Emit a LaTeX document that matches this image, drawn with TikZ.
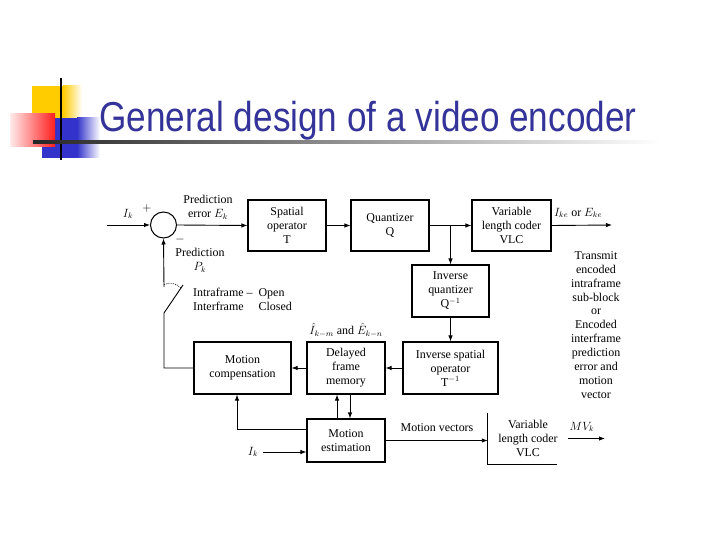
\documentclass[tikz,border=0pt]{standalone}
\usepackage{graphicx}
\usepackage{amsmath}
\usepackage{fontspec}
\setmainfont{Liberation Serif}
\newfontfamily\titlefont{Liberation Sans}
\usepackage{xcolor}
\usepackage{tikz}
\usetikzlibrary{arrows.meta,calc}
\definecolor{titleblue}{RGB}{51,51,153}
\definecolor{decoyellow}{RGB}{255,204,0}
\definecolor{decoblue}{RGB}{51,51,204}
\definecolor{decored}{RGB}{255,30,30}

\begin{document}
\begin{tikzpicture}[x=1bp,y=-1bp,
  font=\fontsize{12}{14}\selectfont,
  blk/.style={draw,line width=1.1bp,align=center,inner sep=1bp},
  lbl/.style={align=center,inner sep=0pt},
  wire/.style={line width=0.9bp},
  flow/.style={wire,-{Latex[length=6bp,width=4.5bp]}}]
  \useasboundingbox (0,0) rectangle (720,540);

  \fill[decoyellow] (32,86) rectangle (63,128);
  \fill[left color=decoyellow,right color=white] (63,86) rectangle (82,128);
  \fill[decoblue] (42,118) rectangle (77,158);
  \fill[left color=decoblue,right color=white] (77,118) rectangle (100,158);
  \fill[left color=red!8,right color=decored] (10,114) rectangle (55,147);
  \draw[line width=2bp] (61,78) -- (61,160);
  \shade[left color=black!85,middle color=black!45,right color=white] (33,141) rectangle (660,143.5);
  \node[anchor=base west,inner sep=0pt,text=titleblue] (title) at (99,132)
    {\titlefont\fontsize{42}{42}\selectfont\scalebox{0.84}[1]{General design of a video encoder}};

  \node[draw,circle,line width=1bp,minimum size=26bp,inner sep=0pt] (sum) at (163.5,225) {};
  \node[blk,minimum width=78bp,minimum height=51bp] (T) at (287,225.5) {Spatial\\operator\\T};
  \node[blk,minimum width=78bp,minimum height=51bp] (Q) at (390,225.5) {Quantizer\\Q};
  \node[blk,minimum width=79bp,minimum height=51bp] (VLC) at (511.5,225.5) {Variable\\length coder\\VLC};
  \node[blk,minimum width=77bp,minimum height=52bp] (IQ) at (450.5,291) {Inverse\\quantizer\\Q$^{-1}$};
  \node[blk,minimum width=95bp,minimum height=52bp] (IT) at (450.5,368) {Inverse spatial\\operator\\T$^{-1}$};
  \node[blk,minimum width=78bp,minimum height=52bp] (DFM) at (346,368) {Delayed\\frame\\memory};
  \node[blk,minimum width=97bp,minimum height=52bp] (MC) at (242.5,368) {Motion\\compensation};
  \node[blk,minimum width=78bp,minimum height=43bp] (ME) at (346,440.5) {Motion\\estimation};
  \node[lbl,minimum width=80bp,minimum height=51bp] (VLCb) at (528,438.5) {Variable\\length coder\\VLC};

  \node[lbl] (ik) at (128,214) {$I_k$};
  \node[lbl] (plus) at (147,209) {$+$};
  \node[lbl] (minus) at (180,240) {$-$};
  \node[lbl] (err) at (208,207) {Prediction\\error $E_k$};
  \node[lbl] (pred) at (200,260) {Prediction\\$P_k$};
  \node[lbl,anchor=west] (mode) at (193,301)
    {\begin{tabular}{@{}l@{\hspace{6bp}}l@{}}Intraframe -- & Open\\Interframe & Closed\end{tabular}};
  \node[lbl] (hat) at (346,330) {$\hat{I}_{k-m}$~and~$\hat{E}_{k-n}$};
  \node[lbl] (ike) at (578,213) {$I_{ke}$ or $E_{ke}$};
  \node[lbl] (note) at (596,325) {Transmit\\encoded\\intraframe\\sub-block\\or\\Encoded\\interframe\\prediction\\error and\\motion\\vector};
  \node[lbl] (mv) at (437,428) {Motion vectors};
  \node[lbl] (ik2) at (253,452) {$I_k$};
  \node[lbl] (mvk) at (582,427) {$MV_k$};

  \coordinate (in) at (107,225);
  \coordinate (out) at (612,225);
  \coordinate (mvout) at (605,438.5);
  \coordinate (sw) at (164,313);
  \coordinate (swtop) at (164,287);
  \coordinate (blade) at (183,285);

  \draw[flow] (in) -- (sum.west);
  \draw[flow] (sum.east) -- (T.west);
  \draw[flow] (T.east) -- (Q.west);
  \draw[flow] (Q.east) -- (VLC.west);
  \draw[flow] (IQ.north |- Q.east) -- (IQ.north);
  \draw[flow] (VLC.east) -- (out);
  \draw[flow] (IQ.south) -- (IT.north);
  \draw[flow] (IT.west) -- (DFM.east);
  \draw[flow] (DFM.west) -- (MC.east);
  \draw[wire] (MC.west) -- (sw |- MC.west) -- (sw) -- (blade);
  \draw[flow] (swtop) -- (sum.south);
  \draw[wire,densely dotted,line width=0.6bp] (164,284.5) .. controls (170,282) and (176,283) .. (181,288);
  \draw[flow] ($(ME.north west)!.25!(ME.south west)$) -| ([xshift=-5.5bp]MC.south);
  \draw[flow] ([xshift=-9bp]ME.north) -- ([xshift=-9bp]DFM.south);
  \draw[flow] ([xshift=4bp]DFM.south) -- ([xshift=4bp]ME.north);
  \draw[flow] ([xshift=5bp]ik2.east) -- (ik2 -| ME.west);
  \draw[flow] (ME.east) -- (ME.east -| VLCb.west);
  \draw[wire] (VLCb.north west) -- (VLCb.south west) -- ++(69,0);
  \draw[flow] (VLCb.east) -- (mvout);
\end{tikzpicture}
\end{document}
